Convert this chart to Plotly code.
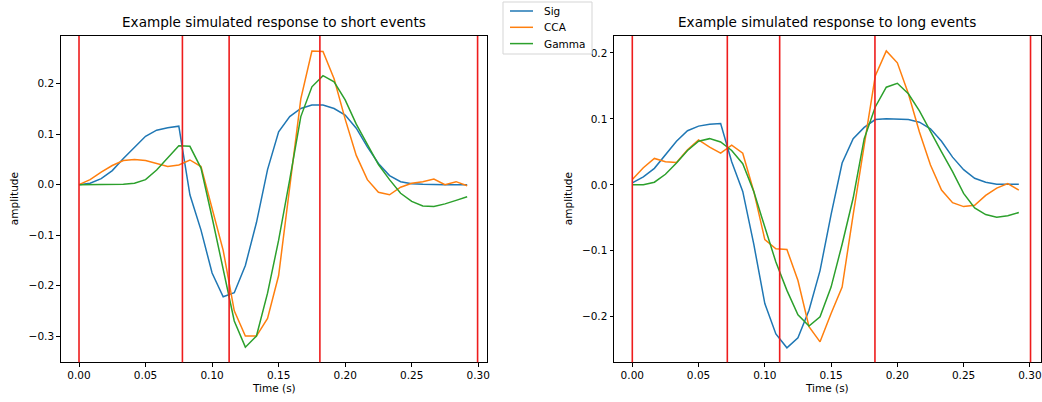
import numpy as np
import plotly.graph_objects as go

# ---- data ----
fs = 120.0
n_samples = 36
t = [i / fs for i in range(n_samples)]

short_sig = [0.0, 0.003, 0.012, 0.028, 0.052, 0.074, 0.096, 0.108, 0.113, 0.116,
             -0.02, -0.09, -0.175, -0.222, -0.214, -0.16, -0.075, 0.03, 0.105, 0.135,
             0.151, 0.158, 0.158, 0.151, 0.138, 0.112, 0.075, 0.042, 0.018, 0.006,
             0.002, 0.001, 0.0, 0.0, 0.0, 0.0]
short_cca = [0.0, 0.01, 0.025, 0.038, 0.048, 0.05, 0.048, 0.042, 0.036, 0.039,
             0.049, 0.036, -0.045, -0.13, -0.25, -0.30, -0.30, -0.265, -0.18, 0.0,
             0.17, 0.265, 0.264, 0.21, 0.13, 0.058, 0.01, -0.015, -0.02, -0.005,
             0.003, 0.006, 0.011, 0.0, 0.006, -0.002]
short_gamma = [0.0, 0.0, 0.0, 0.0, 0.001, 0.003, 0.01, 0.029, 0.052, 0.077,
               0.076, 0.033, -0.065, -0.165, -0.27, -0.322, -0.30, -0.215, -0.11, 0.01,
               0.135, 0.194, 0.216, 0.204, 0.168, 0.12, 0.08, 0.04, 0.01, -0.017,
               -0.033, -0.042, -0.043, -0.038, -0.031, -0.024]

long_sig = [0.003, 0.012, 0.025, 0.046, 0.066, 0.082, 0.089, 0.092, 0.093, 0.035,
            -0.01, -0.09, -0.18, -0.226, -0.247, -0.232, -0.19, -0.13, -0.045, 0.033,
            0.07, 0.087, 0.099, 0.1, 0.1, 0.099, 0.095, 0.085, 0.066, 0.042,
            0.023, 0.01, 0.004, 0.001, 0.001, 0.001]
long_cca = [0.008, 0.026, 0.04, 0.035, 0.034, 0.053, 0.068, 0.057, 0.048, 0.06,
            0.048, -0.01, -0.083, -0.097, -0.098, -0.145, -0.215, -0.238, -0.195, -0.155,
            -0.045, 0.06, 0.165, 0.203, 0.185, 0.138, 0.08, 0.03, -0.008, -0.027,
            -0.033, -0.031, -0.016, -0.005, 0.002, -0.008]
long_gamma = [0.0, 0.0, 0.004, 0.016, 0.033, 0.052, 0.066, 0.07, 0.065, 0.052,
              0.032, -0.01, -0.064, -0.117, -0.16, -0.197, -0.214, -0.2, -0.155, -0.09,
              -0.02, 0.07, 0.118, 0.148, 0.154, 0.138, 0.112, 0.08, 0.05, 0.02,
              -0.013, -0.035, -0.045, -0.049, -0.047, -0.042]

short_events = [0.0, 0.0777, 0.1128, 0.181, 0.2995]
long_events = [0.0, 0.0717, 0.1112, 0.1831, 0.3005]

series_names = ["Sig", "CCA", "Gamma"]
series_colors = ["#1f77b4", "#ff7f0e", "#2ca02c"]
titles = ["Example simulated response to short events",
          "Example simulated response to long events"]
x_ticks = [0.0, 0.05, 0.10, 0.15, 0.20, 0.25, 0.30]
short_y_ticks = [0.2, 0.1, 0.0, -0.1, -0.2, -0.3]
long_y_ticks = [0.2, 0.1, 0.0, -0.1, -0.2]

# ---- figure ----
W, H = 1042, 402
fig = go.Figure()

def px_x(p):
    return p / W

def px_y(p):
    return (H - p) / H

panels = [
    ("x", "y", [short_sig, short_cca, short_gamma], short_events),
    ("x2", "y2", [long_sig, long_cca, long_gamma], long_events),
]
for k, (xa, ya, data, events) in enumerate(panels):
    for name, col, vals in zip(series_names, series_colors, data):
        fig.add_trace(go.Scatter(
            x=t, y=vals, mode="lines", name=name, xaxis=xa, yaxis=ya,
            line=dict(color=col, width=1.5), showlegend=False))
    for ev in events:
        fig.add_shape(type="line", xref=xa, yref=ya + " domain",
                      x0=ev, x1=ev, y0=0, y1=1,
                      line=dict(color="#ee1c1c", width=1.6), layer="above")

FS = 10.5
font = dict(family="DejaVu Sans", size=FS, color="#000000")
axis_common = dict(showgrid=False, zeroline=False, showline=True, mirror=True,
                   linecolor="#000000", linewidth=1, ticks="outside", ticklen=3.5,
                   tickwidth=0.8, tickcolor="#000000", tickfont=font, automargin=False)

xl0, xl1 = 60.7 / W, 487.3 / W
xr0, xr1 = 614.0 / W, 1040.6 / W
yd0, yd1 = (H - 362.3) / H, (H - 36.0) / H

fig.update_layout(
    width=W, height=H,
    margin=dict(l=0, r=0, t=0, b=0),
    paper_bgcolor="white", plot_bgcolor="white",
    font=dict(family="DejaVu Sans", size=10, color="#000000"),
    xaxis=dict(domain=[xl0, xl1], range=[-0.01376, 0.3068], tickvals=x_ticks,
               tickformat=".2f", anchor="y", **axis_common),
    yaxis=dict(domain=[yd0, yd1], range=[-0.352, 0.2947], tickvals=short_y_ticks,
               tickformat=".1f", anchor="x", **axis_common),
    xaxis2=dict(domain=[xr0, xr1], range=[-0.01381, 0.3081], tickvals=x_ticks,
                tickformat=".2f", anchor="y2", **axis_common),
    yaxis2=dict(domain=[yd0, yd1], range=[-0.269, 0.2256], tickvals=long_y_ticks,
                tickformat=".1f", anchor="x2", **axis_common),
    showlegend=False,
)

annos = []
title_y = (H - 22) / H
tfont = dict(family="DejaVu Sans", size=13.6, color="#000000")
annos.append(dict(text=titles[0], x=(xl0 + xl1) / 2, y=title_y, xref="paper", yref="paper",
                  showarrow=False, xanchor="center", yanchor="middle", font=tfont))
annos.append(dict(text=titles[1], x=(xr0 + xr1) / 2, y=title_y, xref="paper", yref="paper",
                  showarrow=False, xanchor="center", yanchor="middle", font=tfont))
xt_y = (H - 388) / H
for cx in [(xl0 + xl1) / 2, (xr0 + xr1) / 2]:
    annos.append(dict(text="Time (s)", x=cx, y=xt_y, xref="paper", yref="paper",
                      showarrow=False, xanchor="center", yanchor="middle", font=font))
yt_y = (yd0 + yd1) / 2
for px in [14, 568]:
    annos.append(dict(text="amplitude", x=px / W, y=yt_y, xref="paper", yref="paper",
                      showarrow=False, xanchor="center", yanchor="middle", textangle=-90,
                      font=font))

# ---- figure-level legend (matplotlib-style box) ----
leg_left, leg_right, leg_top, leg_bottom = 503, 592, 2, 54
leg_row0, leg_row_gap = 11, 16.3
fig.add_shape(type="rect", xref="paper", yref="paper",
              x0=px_x(leg_left), x1=px_x(leg_right), y0=px_y(leg_bottom), y1=px_y(leg_top),
              line=dict(color="#d5d5d5", width=1), fillcolor="rgba(255,255,255,0.8)",
              layer="above")
for j, (name, col) in enumerate(zip(series_names, series_colors)):
    ry = leg_row0 + j * leg_row_gap
    fig.add_shape(type="line", xref="paper", yref="paper",
                  x0=px_x(510), x1=px_x(533), y0=px_y(ry), y1=px_y(ry),
                  line=dict(color=col, width=1.5), layer="above")
    annos.append(dict(text=name, x=px_x(542), y=px_y(ry), xref="paper", yref="paper",
                      showarrow=False, xanchor="left", yanchor="middle", font=font))

fig.update_layout(annotations=annos)

fig.write_html("out.html")
